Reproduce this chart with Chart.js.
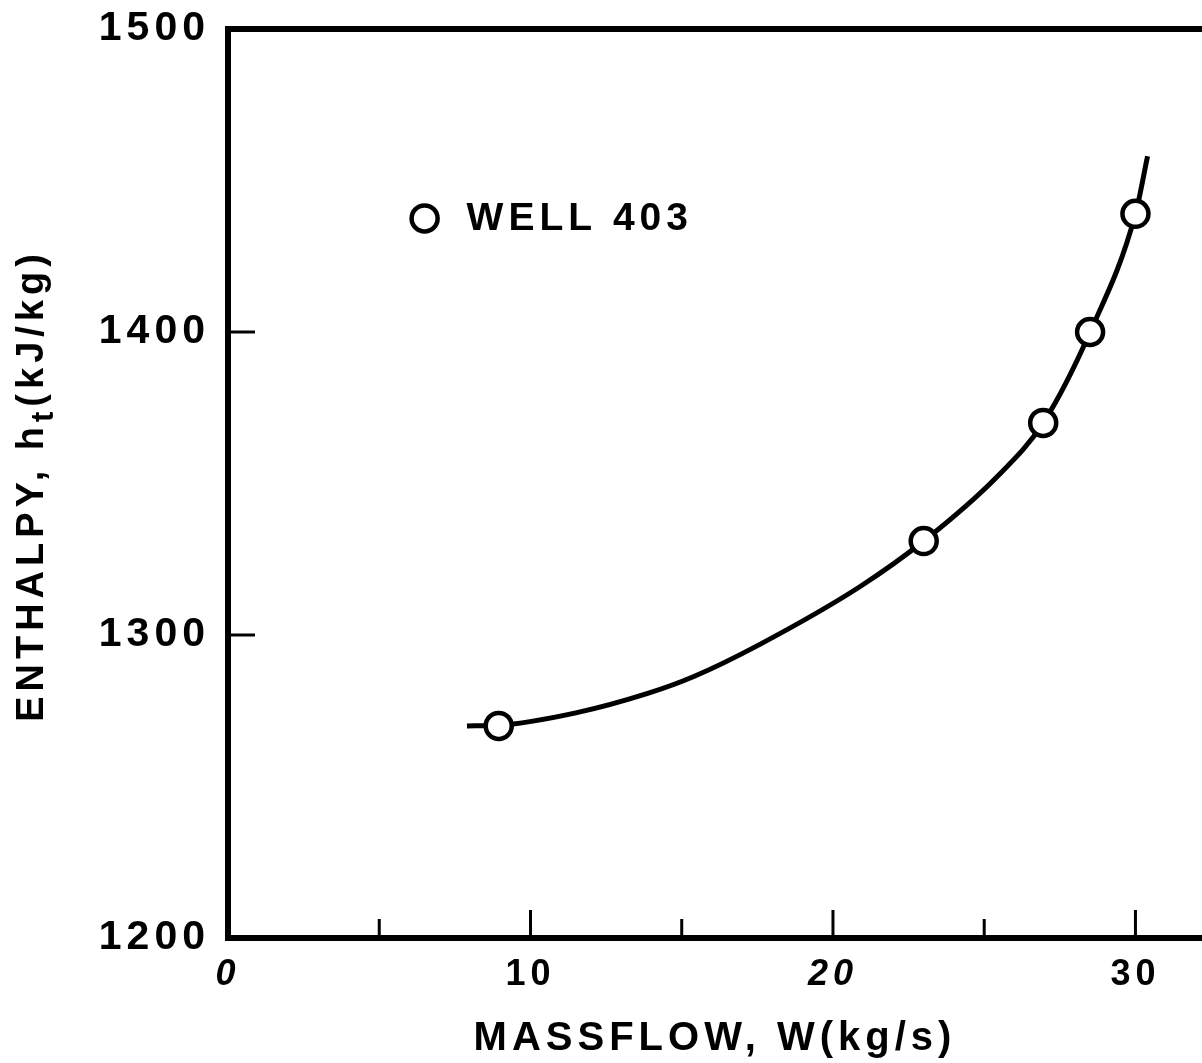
<!DOCTYPE html>
<html>
<head>
<meta charset="utf-8">
<title>Well 403 - enthalpy vs massflow</title>
<script src="https://cdn.jsdelivr.net/npm/chart.js@4.4.1/dist/chart.umd.min.js"></script>
<style>
  html, body { margin: 0; padding: 0; background: #fff; overflow: hidden; }
  #wrap { width: 1202px; height: 1063px; position: relative; }
  #chart { display: block; }
</style>
</head>
<body>
<div id="wrap"><canvas id="chart"></canvas></div>
<script>
// Well 403: measured enthalpy vs. mass flow, plus the hand-drawn fit curve

// measured points (open circles)
const wellFlow = [8.95, 23.0, 26.95, 28.5, 30.0];
const wellEnthalpy = [1270, 1331, 1370, 1400, 1439];

// fitted curve
const curveFlow = [7.9, 8.95, 11.5, 13.9, 15.4, 17.6, 20.9, 23.0, 25.4, 26.95, 28.5, 30.0, 30.4];
const curveEnthalpy = [1270, 1270.2, 1274.3, 1280.8, 1286.3, 1297, 1316, 1331, 1352, 1370, 1400, 1439, 1458];

// axis labels and tick marks
const xLabelTicks = [0, 10, 20, 30];
const xItalicTicks = [0, 20];
const xTickMarks = [5, 10, 15, 20, 25, 30];
const yLabelTicks = [1200, 1300, 1400, 1500];
const yTickMarks = [1300, 1400];

const FONT = "'Liberation Sans', Arial, sans-serif";
const legendAt = { x: 6.5, y: 1437.5 };

// frame top, inward ticks, legend and the y title (with subscript)
const decorations = {
  id: 'decorations',
  beforeDraw(chart) {
    chart.ctx.letterSpacing = '5px';
  },
  afterDraw(chart) {
    const { ctx, chartArea, scales } = chart;
    ctx.save();
    ctx.strokeStyle = '#000';
    ctx.fillStyle = '#000';

    // top frame line
    ctx.lineWidth = 6;
    ctx.beginPath();
    ctx.moveTo(chartArea.left - 3, chartArea.top);
    ctx.lineTo(chartArea.right, chartArea.top);
    ctx.stroke();

    // tick marks point into the plot
    ctx.lineWidth = 3;
    xTickMarks.forEach(v => {
      const x = scales.x.getPixelForValue(v);
      const len = v % 10 === 0 ? 28 : 19;
      ctx.beginPath();
      ctx.moveTo(x, chartArea.bottom);
      ctx.lineTo(x, chartArea.bottom - len);
      ctx.stroke();
    });
    yTickMarks.forEach(v => {
      const y = scales.y.getPixelForValue(v);
      ctx.beginPath();
      ctx.moveTo(chartArea.left, y);
      ctx.lineTo(chartArea.left + 27, y);
      ctx.stroke();
    });

    // legend
    const lx = scales.x.getPixelForValue(legendAt.x);
    const ly = scales.y.getPixelForValue(legendAt.y);
    ctx.lineWidth = 4.5;
    ctx.fillStyle = '#fff';
    ctx.beginPath();
    ctx.arc(lx, ly, 13, 0, Math.PI * 2);
    ctx.fill();
    ctx.stroke();
    ctx.fillStyle = '#000';
    ctx.font = `bold 39px ${FONT}`;
    ctx.textAlign = 'left';
    ctx.textBaseline = 'middle';
    ctx.fillText(chart.data.datasets[1].label, lx + 42, ly + 1);

    // y axis title, rotated, with subscript t
    const parts = [
      { text: 'ENTHALPY, h', size: 38, shift: 0 },
      { text: 't', size: 31, shift: 10 },
      { text: '(kJ/kg)', size: 38, shift: 0 }
    ];
    let total = 0;
    parts.forEach(p => {
      ctx.font = `bold ${p.size}px ${FONT}`;
      p.w = ctx.measureText(p.text).width;
      total += p.w;
    });
    ctx.translate(43, (chartArea.top + chartArea.bottom) / 2 + 2);
    ctx.rotate(-Math.PI / 2);
    ctx.textBaseline = 'alphabetic';
    let cx = -total / 2;
    parts.forEach(p => {
      ctx.font = `bold ${p.size}px ${FONT}`;
      ctx.fillText(p.text, cx, p.shift);
      cx += p.w;
    });
    ctx.restore();
  }
};

const ctx = document.getElementById('chart');

new Chart(ctx, {
  type: 'scatter',
  data: {
    datasets: [{
      label: 'fit',
      data: curveFlow.map((x, i) => ({ x, y: curveEnthalpy[i] })),
      showLine: true,
      borderColor: '#000',
      borderWidth: 5,
      pointRadius: 0,
      cubicInterpolationMode: 'monotone',
      order: 2
    }, {
      label: 'WELL 403',
      data: wellFlow.map((x, i) => ({ x, y: wellEnthalpy[i] })),
      showLine: false,
      pointRadius: 13,
      pointBorderWidth: 4.5,
      pointBorderColor: '#000',
      pointBackgroundColor: '#fff',
      order: 1
    }]
  },
  options: {
    responsive: true,
    maintainAspectRatio: false,
    animation: false,
    events: [],
    layout: {
      autoPadding: false,
      padding: { top: 29, right: 0, bottom: 0, left: 0 }
    },
    plugins: {
      legend: { display: false },
      tooltip: { enabled: false }
    },
    scales: {
      x: {
        type: 'linear',
        min: 0,
        max: 32.2,
        afterBuildTicks: scale => {
          scale.ticks = xLabelTicks.map(v => ({ value: v }));
        },
        afterFit: scale => {
          scale.height = 125;
          scale.paddingLeft = 0;
          scale.paddingRight = 0;
        },
        grid: { display: false, drawTicks: false },
        border: { display: true, color: '#000', width: 6 },
        ticks: {
          color: '#000',
          padding: 15,
          callback: v => String(v),
          font: c => ({
            family: FONT,
            size: 36,
            weight: 'bold',
            style: xItalicTicks.includes(c.tick ? c.tick.value : -1) ? 'italic' : 'normal'
          })
        },
        title: {
          display: true,
          text: 'MASSFLOW, W(kg/s)',
          color: '#000',
          font: { family: FONT, size: 40, weight: 'bold' },
          padding: { top: 0, bottom: 0 }
        }
      },
      y: {
        type: 'linear',
        min: 1200,
        max: 1500,
        afterBuildTicks: scale => {
          scale.ticks = yLabelTicks.map(v => ({ value: v }));
        },
        afterFit: scale => {
          scale.width = 228;
          scale.paddingTop = 0;
          scale.paddingBottom = 0;
        },
        grid: { display: false, drawTicks: false },
        border: { display: true, color: '#000', width: 6 },
        ticks: {
          color: '#000',
          padding: 18,
          callback: v => String(v),
          font: { family: FONT, size: 41, weight: 'bold' }
        }
      }
    }
  },
  plugins: [decorations]
});
</script>
</body>
</html>
